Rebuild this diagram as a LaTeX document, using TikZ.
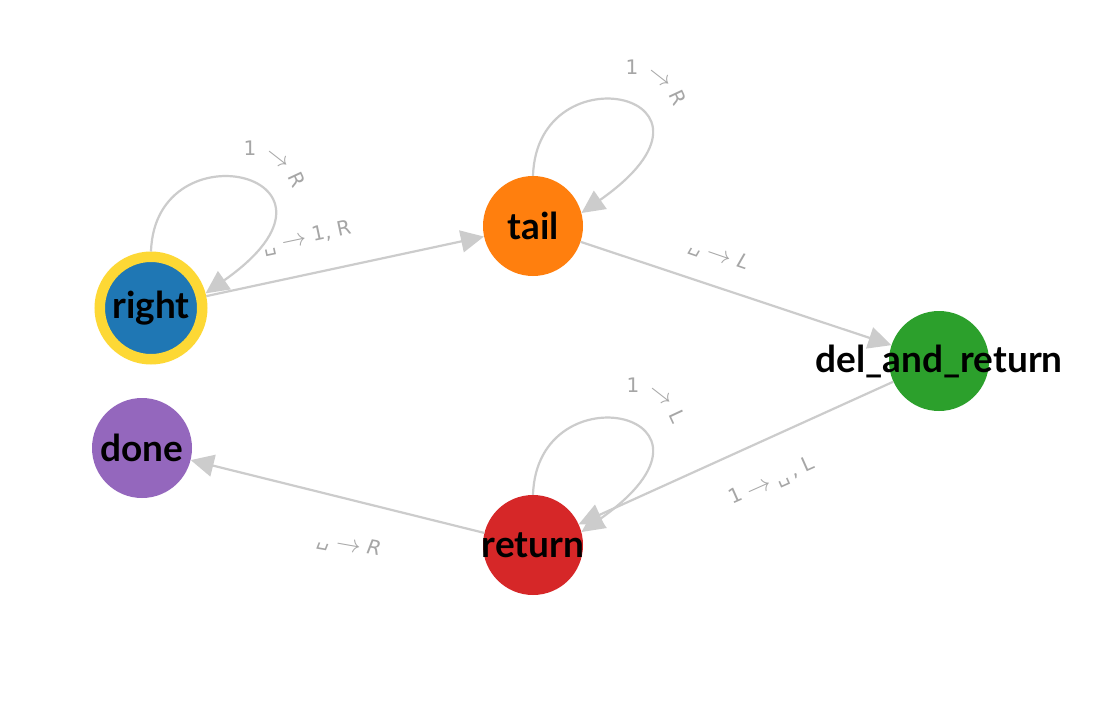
\documentclass[tikz,border=0pt]{standalone}
\usepackage{fontspec}
\setmainfont{DejaVu Sans}
\newfontfamily\nodefont{Lato}
\newfontfamily\lblfont{DejaVu Sans}
\usetikzlibrary{arrows.meta}
\definecolor{tabblue}{HTML}{1F77B4}
\definecolor{taborange}{HTML}{FF7F0E}
\definecolor{tabgreen}{HTML}{2CA02C}
\definecolor{tabred}{HTML}{D62728}
\definecolor{tabpurple}{HTML}{9467BD}
\definecolor{ringyellow}{HTML}{FDD835}
\definecolor{edgegray}{HTML}{CCCCCC}
\definecolor{lblgray}{HTML}{A6A6A6}
\newcommand{\rar}{\raisebox{-1.5pt}{\fontsize{27}{27}\selectfont\(\rightarrow\)}}
\begin{document}
\begin{tikzpicture}[x=1pt,y=-1pt,
  st/.style={circle, inner sep=0pt, minimum size=100pt},
  ntext/.style={font=\nodefont\bfseries\fontsize{37}{37}\selectfont, text=black, inner sep=0pt},
  edge/.style={draw=edgegray, line width=2.2pt, -{Triangle[length=23pt,width=22pt]}},
  lbl/.style={font=\lblfont\fontsize{20}{20}\selectfont, text=lblgray, inner sep=0pt},
  lbli/.style={font=\lblfont\itshape\fontsize{20}{20}\selectfont, text=lblgray, inner sep=0pt}]
\useasboundingbox (0,0) rectangle (1108,722);
\fill[white] (0,0) rectangle (1108,722);
% states
\node[st, fill=tabblue, draw=ringyellow, line width=10.5pt, minimum size=102.5pt] (right) at (151,308) {};
\node[st, fill=taborange] (tail) at (533,226) {};
\node[st, fill=tabgreen] (del) at (939,361) {};
\node[st, fill=tabpurple] (done) at (142,448) {};
\node[st, fill=tabred] (ret) at (533,545) {};
% transitions
\draw[edge] (right.90) .. controls +(4,-128) and +(168,-118) .. (right.15);
\draw[edge] (right) -- (tail);
\draw[edge] (tail.90) .. controls +(4,-128) and +(168,-118) .. (tail.15);
\draw[edge] (tail) -- (del);
\draw[edge] (del) -- (ret);
\draw[edge] (ret.90) .. controls +(4,-128) and +(168,-118) .. (ret.15);
\draw[edge] (ret) -- (done);
% state names
\node[ntext] (right-t) at (right) {right};
\node[ntext] (tail-t) at (tail) {tail};
\node[ntext] (del-t) at (del) {del\_and\_return};
\node[ntext] (done-t) at (done) {done};
\node[ntext] (ret-t) at (ret) {return};
% transition labels
\node[lbl] (l1a) at (250,148) {1};
\node[lbl, rotate=-38] (l1b) at (277,160) {\rar};
\node[lbl, rotate=-65] (l1c) at (297,180) {R};
\node[lbl, rotate=12] (l2) at (307,238) {␣ \rar\ 1, R};
\node[lbl] (l3a) at (632,67) {1};
\node[lbl, rotate=-38] (l3b) at (659,79) {\rar};
\node[lbl, rotate=-65] (l3c) at (678,98) {R};
\node[lbli, rotate=-19] (l4) at (719,255) {␣ \rar\ L};
\node[lbl, rotate=24] (l5) at (772,482) {1 \rar\ ␣\thinspace, L};
\node[lbl] (l6a) at (633,385) {1};
\node[lbl, rotate=-38] (l6b) at (660,397) {\rar};
\node[lbl, rotate=-65] (l6c) at (677,416) {L};
\node[lbli, rotate=-10] (l7) at (349,545) {␣ \rar\ R};
\end{tikzpicture}
\end{document}
